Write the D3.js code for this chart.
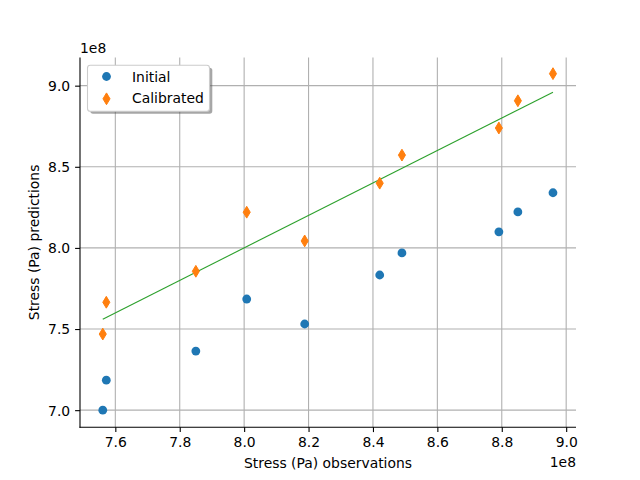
<!DOCTYPE html>
<html><head><meta charset="utf-8">
<script src="https://cdn.jsdelivr.net/npm/d3@7"></script>
<style>body{margin:0;background:#fff}svg{display:block}text{font-family:"DejaVu Sans",sans-serif;fill:#000}</style>
</head><body>
<script>
const observations = [7.561e8, 7.572e8, 7.850e8, 8.008e8, 8.188e8, 8.421e8, 8.490e8, 8.791e8, 8.850e8, 8.959e8];
const initialPred = [7.000e8, 7.185e8, 7.364e8, 7.685e8, 7.531e8, 7.833e8, 7.969e8, 8.099e8, 8.222e8, 8.340e8];
const calibratedPred = [7.469e8, 7.665e8, 7.856e8, 8.220e8, 8.043e8, 8.399e8, 8.572e8, 8.739e8, 8.907e8, 9.074e8];
const xTicks = [7.6e8, 7.8e8, 8.0e8, 8.2e8, 8.4e8, 8.6e8, 8.8e8, 9.0e8];
const yTicks = [7.0e8, 7.5e8, 8.0e8, 8.5e8, 9.0e8];
const seriesNames = ["Initial", "Calibrated"];
const colors = ["#1f77b4", "#ff7f0e", "#2ca02c"];

const W = 640, H = 480;
const L = 80, R = 576, T = 57.6, B = 427.2;
const svg = d3.select("body").append("svg").attr("width", W).attr("height", H);
const x = d3.scaleLinear().domain([7.4903e8, 9.0305e8]).range([L, R]);
const y = d3.scaleLinear().domain([6.895e8, 9.173e8]).range([B, T]);
const fmt = v => (v / 1e8).toFixed(1);

// grid
const g = svg.append("g");
g.selectAll(".gx").data(xTicks).join("line")
  .attr("x1", d => x(d)).attr("x2", d => x(d)).attr("y1", T).attr("y2", B)
  .attr("stroke", "#b0b0b0").attr("stroke-width", 1.1);
g.selectAll(".gy").data(yTicks).join("line")
  .attr("y1", d => y(d)).attr("y2", d => y(d)).attr("x1", L).attr("x2", R)
  .attr("stroke", "#b0b0b0").attr("stroke-width", 1.1);

// axes
const xAxis = svg.append("g").attr("transform", `translate(0,${B})`)
  .call(d3.axisBottom(x).tickValues(xTicks).tickFormat(fmt).tickSize(4.9).tickPadding(4.9));
const yAxis = svg.append("g").attr("transform", `translate(${L},0)`)
  .call(d3.axisLeft(y).tickValues(yTicks).tickFormat(fmt).tickSize(4.9).tickPadding(4.9));
[xAxis, yAxis].forEach(a => {
  a.select(".domain").remove();
  a.selectAll("line").attr("stroke", "#000").attr("stroke-width", 1.1);
  a.selectAll("text").attr("font-size", 13.9).attr("font-family", "DejaVu Sans").attr("fill", "#000");
});
yAxis.selectAll("text").attr("dy", "0.35em");
svg.append("line").attr("x1", L).attr("x2", L).attr("y1", T).attr("y2", B + 0.55).attr("stroke", "#000").attr("stroke-width", 1.1);
svg.append("line").attr("x1", L - 0.55).attr("x2", R).attr("y1", B).attr("y2", B).attr("stroke", "#000").attr("stroke-width", 1.1);

// identity line
const ext = d3.extent(observations);
svg.append("path").attr("d", d3.line().x(d => x(d)).y(d => y(d))(ext))
  .attr("stroke", colors[2]).attr("stroke-width", 1.1).attr("fill", "none");

// markers
const diamond = "M0,-5.9 L3.54,0 L0,5.9 L-3.54,0 Z";
svg.append("g").selectAll("circle").data(observations).join("circle")
  .attr("cx", d => x(d)).attr("cy", (d, i) => y(initialPred[i])).attr("r", 4.4)
  .attr("fill", colors[0]);
svg.append("g").selectAll("path").data(observations).join("path")
  .attr("transform", (d, i) => `translate(${x(d)},${y(calibratedPred[i])})`)
  .attr("d", diamond).attr("fill", colors[1]).attr("stroke", colors[1]).attr("stroke-width", 1);

// labels
svg.append("text").attr("x", (L + R) / 2).attr("y", 468).attr("text-anchor", "middle").attr("font-size", 13.9).text("Stress (Pa) observations");
svg.append("text").attr("transform", "translate(38.5,242.4) rotate(-90)").attr("text-anchor", "middle").attr("font-size", 13.9).text("Stress (Pa) predictions");
svg.append("text").attr("x", R).attr("y", 467).attr("text-anchor", "end").attr("font-size", 13.9).text("1e8");
svg.append("text").attr("x", L).attr("y", 53).attr("text-anchor", "start").attr("font-size", 13.9).text("1e8");

// legend
const lg = svg.append("g");
lg.append("rect").attr("x", 90.3).attr("y", 67.8).attr("width", 122).attr("height", 46).attr("rx", 2.8)
  .attr("fill", "rgb(77,77,77)").attr("opacity", 0.5);
lg.append("rect").attr("x", 87.5).attr("y", 65.3).attr("width", 122).attr("height", 46).attr("rx", 2.8)
  .attr("fill", "#fff").attr("stroke", "#cccccc").attr("stroke-width", 1.1);
lg.append("circle").attr("cx", 106.5).attr("cy", 76.5).attr("r", 4.4).attr("fill", colors[0]);
lg.append("path").attr("transform", "translate(106.5,98.8)").attr("d", diamond).attr("fill", colors[1]).attr("stroke", colors[1]).attr("stroke-width", 1);
lg.selectAll(".lt").data(seriesNames).join("text")
  .attr("x", 132).attr("y", (d, i) => 81.5 + i * 21.5).attr("font-size", 13.9).text(d => d);
</script>
</body></html>
